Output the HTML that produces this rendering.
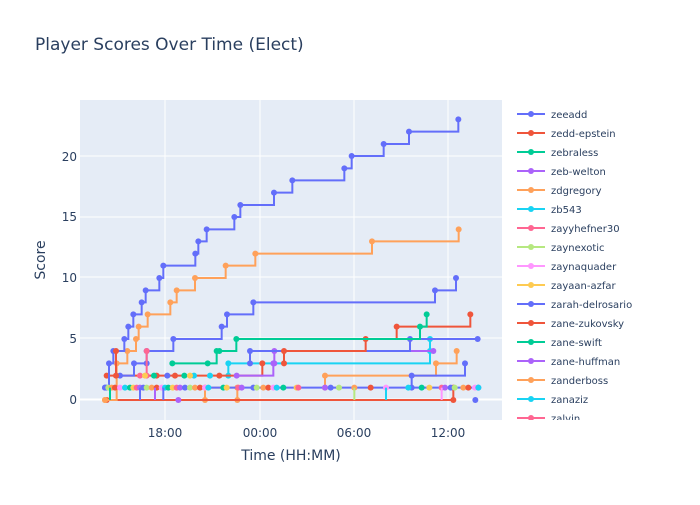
<!DOCTYPE html>
<html><head><meta charset="utf-8"><style>
body{margin:0;background:#fff}
svg text{font-family:"DejaVu Sans","Liberation Sans",sans-serif;fill:#2a3f5f}
</style></head><body>
<svg id="s" width="700" height="500" xmlns="http://www.w3.org/2000/svg">
<rect width="700" height="500" fill="#fff"/>
<text x="35" y="50" font-size="17">Player Scores Over Time (Elect)</text>
<rect x="80" y="100" width="422" height="320" fill="#e5ecf6"/>
<g stroke="#fff" stroke-width="1">
<line x1="80" x2="502" y1="156" y2="156"/><line x1="80" x2="502" y1="217" y2="217"/>
<line x1="80" x2="502" y1="277" y2="277"/><line x1="80" x2="502" y1="338" y2="338"/>
<line x1="165" x2="165" y1="100" y2="420"/><line x1="260" x2="260" y1="100" y2="420"/>
<line x1="354" x2="354" y1="100" y2="420"/><line x1="448" x2="448" y1="100" y2="420"/>
</g>
<line x1="80" x2="502" y1="399.5" y2="399.5" stroke="#fff" stroke-width="2"/>
<g font-size="12" text-anchor="end">
<text x="77" y="404">0</text><text x="77" y="343">5</text><text x="77" y="282">10</text><text x="77" y="221">15</text><text x="77" y="161">20</text>
</g>
<g font-size="12" text-anchor="middle">
<text x="165" y="437">18:00</text><text x="260" y="437">00:00</text><text x="354" y="437">06:00</text><text x="448" y="437">12:00</text>
</g>
<text x="291" y="460" font-size="14" text-anchor="middle">Time (HH:MM)</text>
<text transform="translate(45,260) rotate(-90)" font-size="14" text-anchor="middle">Score</text>
<g id="plot"></g>
<g id="leg"></g>
</svg>
<script>
const C=["#636efa","#EF553B","#00cc96","#ab63fa","#FFA15A","#19d3f3","#FF6692","#B6E880","#FF97FF","#FECB52"];
const P=document.getElementById('plot'),L=document.getElementById('leg');
const ns="http://www.w3.org/2000/svg";
function el(t,a,p){const e=document.createElementNS(ns,t);for(const k in a)e.setAttribute(k,a[k]);(p||P).appendChild(e);return e;}
function series(pts,c){pts=pts.map(p=>[80+p[0]/3,100+p[1]/3]);let d="M"+pts[0][0]+","+pts[0][1];
for(let i=1;i<pts.length;i++){d+=" H"+pts[i][0]+" V"+pts[i][1];}
el('path',{d:d,fill:"none",stroke:c,"stroke-width":2});
pts.forEach(p=>el('circle',{cx:p[0],cy:p[1],r:3,fill:c}));}
series([[75,900],[375,900],[375,863],[472,863],[472,900]],C[4]);
series([[80,900],[1120,900],[1120,863]],C[1]);
series([[75,863],[1195,863]],C[0]);
series([[295,900]],C[3]);series([[1186,900]],C[0]);
series([[75,900]],C[9]);
series([[735,863],[735,827],[1068,790],[1130,753]],C[4]);
series([[995,863],[995,827],[1155,790]],C[0]);
series([[445,827],[445,790],[1050,753],[1050,717]],C[5]);
series([[583,790],[583,753],[1060,753]],C[3]);
series([[510,790],[510,753],[990,717],[1193,717]],C[0]);
series([[80,827],[230,827],[418,827],[547,790]],C[1]);
series([[470,827],[580,790]],C[3]);
series([[612,790],[612,753],[857,717],[950,680],[1171,643]],C[1]);
series([[277,790],[383,790],[410,753],[418,753],[469,717],[1020,680],[1040,643]],C[2]);
series([[120,827],[162,790],[200,790],[200,753],[280,717],[425,680],[441,643],[520,607],[1065,571],[1128,534]],C[0]);
series([[75,900],[110,790],[142,753],[168,717],[176,680],[203,643],[271,607],[290,571],[345,534],[437,497],[526,461],[876,424],[1136,388]],C[4]);
series([[80,863],[87,790],[100,753],[133,717],[145,680],[160,643],[185,607],[197,571],[238,534],[250,497],[346,461],[355,424],[380,388],[463,351],[481,315],[582,278],[637,241],[793,205],[815,168],[911,132],[987,95],[1135,58]],C[0]);
series([[108,827],[108,753]],C[1]);series([[200,827],[200,753]],C[6]);
series([[180,827]],C[6]);series([[195,827]],C[9]);series([[222,827]],C[2]);series([[262,827]],C[0]);
series([[285,827]],C[1]);series([[313,827]],C[2]);series([[342,827]],C[5]);series([[330,827]],C[9]);series([[390,827]],C[5]);
const xs=[75,85,95,105,120,135,150,160,170,180,190,200,215,230,245,255,265,278,290,300,315,330,345,360,375,385,430,440,475,485,520,530,550,565,580,590,610,650,655,735,752,777,823,872,918,985,1025,1048,1085,1095,1112,1124,1150,1165,1185,1195];
xs.forEach((x,i)=>el('circle',{cx:80+x/3,cy:100+863/3,r:3,fill:C[(i*7)%10]}));
[[823,900,7],[918,900,5],[1085,900,8],[180,900,0],[250,900,0],[225,900,3],[90,900,2]].forEach(v=>el('line',{x1:80+v[0]/3,x2:80+v[0]/3,y1:100+863/3,y2:100+v[1]/3,stroke:C[v[2]],"stroke-width":2}));
const names=["zeeadd","zedd-epstein","zebraless","zeb-welton","zdgregory","zb543","zayyhefner30","zaynexotic","zaynaquader","zayaan-azfar","zarah-delrosario","zane-zukovsky","zane-swift","zane-huffman","zanderboss","zanaziz","zalvin"];
names.forEach((n,i)=>{const y=114+i*19;const c=C[i%10];
el('line',{x1:517,x2:545,y1:y,y2:y,stroke:c,"stroke-width":2},L);
el('circle',{cx:531,cy:y,r:3,fill:c},L);
const t=el('text',{x:551,y:y+4,"font-size":"10"},L);t.textContent=n;});
const cp=el('clipPath',{id:"cl"},document.getElementById('s'));el('rect',{x:500,y:100,width:200,height:320},cp);L.setAttribute('clip-path','url(#cl)');
</script>
</body></html>
